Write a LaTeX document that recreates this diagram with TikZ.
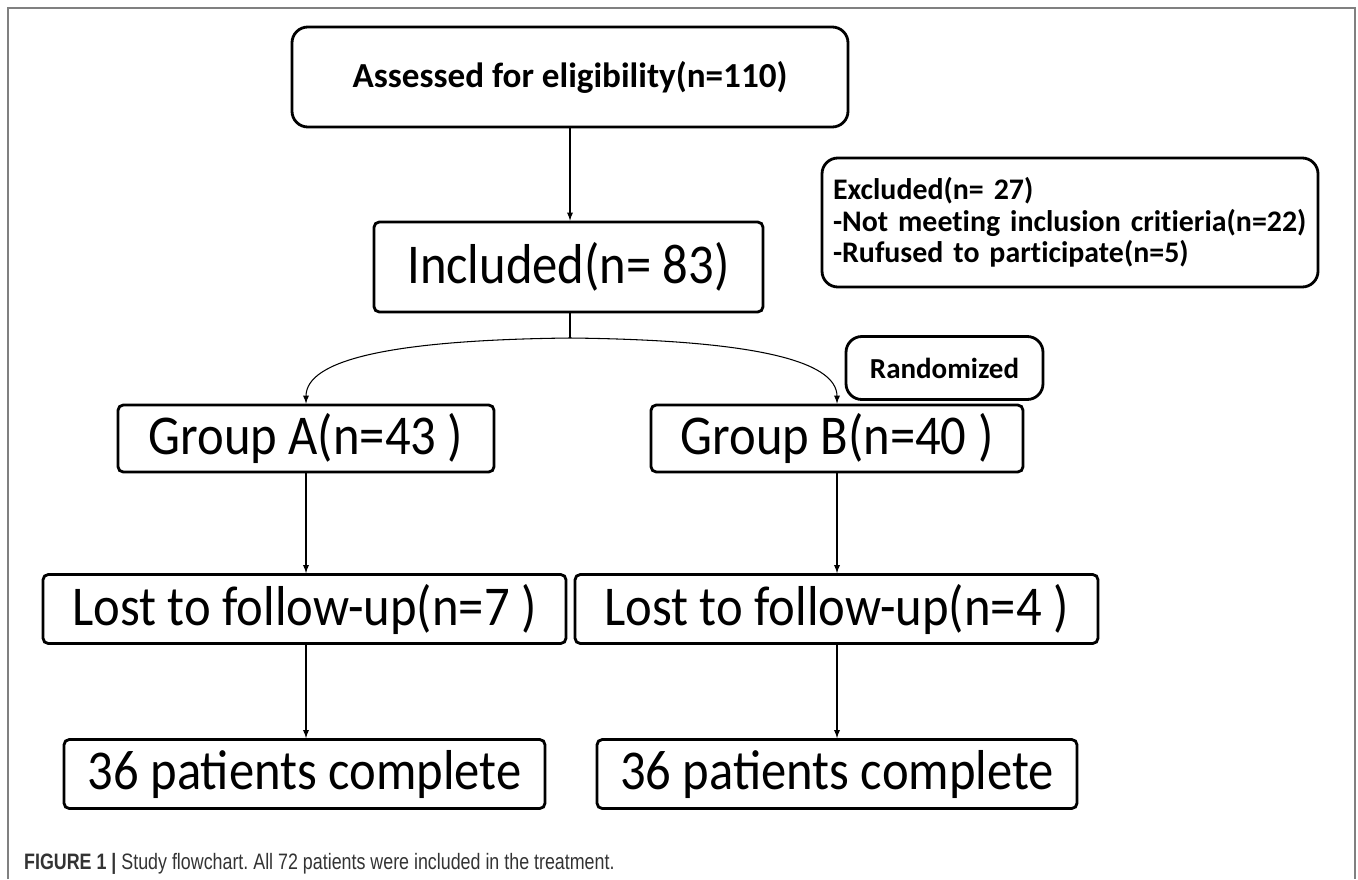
\documentclass[tikz,border=0pt]{standalone}
\usepackage{fontspec}
\usepackage{tikz}
\usetikzlibrary{arrows, positioning}
\newfontfamily\bigfont[FakeStretch=0.9]{Carlito}
\newfontfamily\boldfont[Ligatures=NoCommon]{Carlito}
\newfontfamily\capfont[FakeStretch=0.8]{Liberation Sans}
\frenchspacing

\tikzset{
  box/.style = {draw, line width=1.6pt, rounded corners=3pt, inner sep=0pt,
                font=\bigfont\fontsize{32}{34}\selectfont},
  rbox/.style = {draw, line width=1.6pt, rounded corners=9pt, inner sep=0pt,
                 font=\boldfont\bfseries},
  arr/.style = {-latex, line width=0.6pt}
}

\begin{document}
\begin{tikzpicture}[x=0.02cm, y=-0.02cm]
\useasboundingbox (0,0) rectangle (1358,879);
\draw[gray, line width=0.8pt] (8,879) -- (8,8) -- (1355,8) -- (1355,879);

\node[rbox, minimum width=556*0.02cm, minimum height=100*0.02cm, font=\boldfont\bfseries\fontsize{20}{22}\selectfont](assess) at (570,77) {Assessed for eligibility(n=110)};
\node[box, minimum width=389*0.02cm, minimum height=90*0.02cm](incl) at (568.5,267) {Included(n= 83)};
\node[rbox, text width=474*0.02cm, inner xsep=11*0.02cm, minimum height=129*0.02cm, align=left,
      font=\boldfont\bfseries\fontsize{17}{18}\selectfont](excl) at (1070,222.5)
      {Excluded(n= 27)\\-Not meeting inclusion critieria(n=22)\\-Rufused to participate(n=5)};
\node[rbox, minimum width=197*0.02cm, minimum height=63*0.02cm, font=\boldfont\bfseries\fontsize{16.5}{18}\selectfont](rand) at (944.5,368) {Randomized};

\node[box, minimum width=376*0.02cm, minimum height=67*0.02cm](grpA) at (306,438.5) {Group A(n=43 )};
\node[box, minimum width=372*0.02cm, minimum height=67*0.02cm](grpB) at (837,438.5) {Group B(n=40 )};
\node[box, minimum width=523*0.02cm, minimum height=69*0.02cm](lostA) at (304.5,609) {Lost to follow-up(n=7 )};
\node[box, minimum width=523*0.02cm, minimum height=69*0.02cm](lostB) at (836.5,609) {Lost to follow-up(n=4 )};
\node[box, minimum width=481*0.02cm, minimum height=69*0.02cm](compA) at (304.5,774) {36 patients complete};
\node[box, minimum width=480*0.02cm, minimum height=69*0.02cm](compB) at (837,774) {36 patients complete};

\coordinate (split) at (570,338);
\draw[arr] (assess.south) -- (assess.south |- incl.north);
\draw[line width=0.6pt] (incl.south -| split) -- (split);
\draw[arr] (split) .. controls (390,340) and (306,360) .. (grpA.north);
\draw[arr] (split) .. controls (750,340) and (837,360) .. (grpB.north);
\draw[arr] (grpA.south) -- (grpA.south |- lostA.north);
\draw[arr] (grpB.south) -- (grpB.south |- lostB.north);
\draw[arr] (grpA.south |- lostA.south) -- (grpA.south |- compA.north);
\draw[arr] (grpB.south |- lostB.south) -- (grpB.south |- compB.north);

\node[anchor=west, text=black!80, font=\capfont\fontsize{12.7}{14}\selectfont](cap) at (18,864)
  {\textbf{FIGURE 1} {\bfseries|} Study flowchart. All 72 patients were included in the treatment.};
\end{tikzpicture}
\end{document}
